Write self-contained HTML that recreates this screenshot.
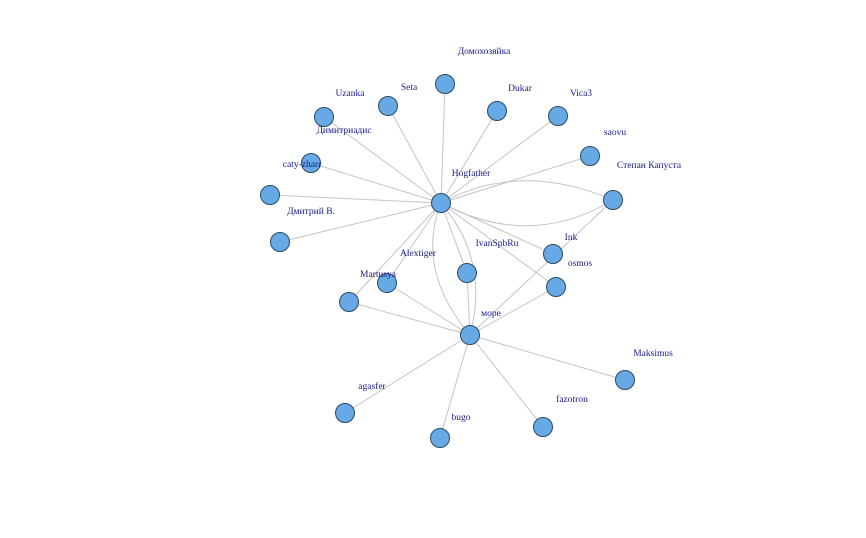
<!DOCTYPE html>
<html><head><meta charset="utf-8"><style>
html,body{margin:0;padding:0;background:#fff;width:866px;height:538px;overflow:hidden}
text{font-family:"Liberation Serif","Noto Serif CJK SC",serif;font-size:9.5px;fill:#1a1a8c;text-anchor:middle}
</style></head><body>
<svg width="866" height="538" xmlns="http://www.w3.org/2000/svg">
<g stroke="#c4c4c4" stroke-width="1" fill="none">
<line x1="441" y1="203" x2="445" y2="84"/>
<line x1="441" y1="203" x2="388" y2="106"/>
<line x1="441" y1="203" x2="324" y2="117"/>
<line x1="441" y1="203" x2="497" y2="111"/>
<line x1="441" y1="203" x2="558" y2="116"/>
<line x1="441" y1="203" x2="590" y2="156"/>
<line x1="441" y1="203" x2="311" y2="163"/>
<line x1="441" y1="203" x2="270" y2="195"/>
<line x1="441" y1="203" x2="280" y2="242"/>
<line x1="441" y1="203" x2="553" y2="254"/>
<line x1="441" y1="203" x2="556" y2="287"/>
<line x1="441" y1="203" x2="467" y2="273"/>
<line x1="441" y1="203" x2="349" y2="302"/>
<line x1="441" y1="203" x2="387" y2="283"/>
<path d="M441,203 Q520,160 613,200"/>
<path d="M441,203 Q530,250 613,200"/>
<path d="M441,203 Q415,270 470,335"/>
<path d="M441,203 Q490,260 470,335"/>
<line x1="470" y1="335" x2="349" y2="302"/>
<line x1="470" y1="335" x2="387" y2="283"/>
<line x1="470" y1="335" x2="467" y2="273"/>
<line x1="470" y1="335" x2="613" y2="200"/>
<line x1="470" y1="335" x2="556" y2="287"/>
<line x1="470" y1="335" x2="625" y2="380"/>
<line x1="470" y1="335" x2="345" y2="413"/>
<line x1="470" y1="335" x2="440" y2="438"/>
<line x1="470" y1="335" x2="543" y2="427"/>
</g>
<g fill="#67a9e4" stroke="#2c4a66" stroke-width="1">
<circle cx="441" cy="203" r="9.5"/><circle cx="470" cy="335" r="9.5"/>
<circle cx="445" cy="84" r="9.5"/><circle cx="388" cy="106" r="9.5"/>
<circle cx="324" cy="117" r="9.5"/><circle cx="497" cy="111" r="9.5"/>
<circle cx="558" cy="116" r="9.5"/><circle cx="590" cy="156" r="9.5"/>
<circle cx="613" cy="200" r="9.5"/><circle cx="311" cy="163" r="9.5"/>
<circle cx="270" cy="195" r="9.5"/><circle cx="280" cy="242" r="9.5"/>
<circle cx="387" cy="283" r="9.5"/><circle cx="349" cy="302" r="9.5"/>
<circle cx="467" cy="273" r="9.5"/><circle cx="553" cy="254" r="9.5"/>
<circle cx="556" cy="287" r="9.5"/><circle cx="625" cy="380" r="9.5"/>
<circle cx="345" cy="413" r="9.5"/><circle cx="440" cy="438" r="9.5"/>
<circle cx="543" cy="427" r="9.5"/>
</g>
<text x="484" y="54">Домохозяйка</text>
<text x="409" y="90">Seta</text>
<text x="350" y="96">Uzanka</text>
<text x="520" y="91">Dukar</text>
<text x="581" y="96">Vica3</text>
<text x="615" y="135">saovu</text>
<text x="649" y="168">Степан Капуста</text>
<text x="344" y="133">Димитриадис</text>
<text x="302" y="167">caty-zharr</text>
<text x="471" y="176">Hogfather</text>
<text x="311" y="214">Дмитрий В.</text>
<text x="418" y="256">Alextiger</text>
<text x="497" y="246">IvanSpbRu</text>
<text x="571" y="240">Ink</text>
<text x="580" y="266">osmos</text>
<text x="378" y="277">Martusya</text>
<text x="491" y="316">море</text>
<text x="653" y="356">Maksimus</text>
<text x="372" y="389">agasfer</text>
<text x="572" y="402">fazotron</text>
<text x="461" y="420">bugo</text>
</svg>
</body></html>
